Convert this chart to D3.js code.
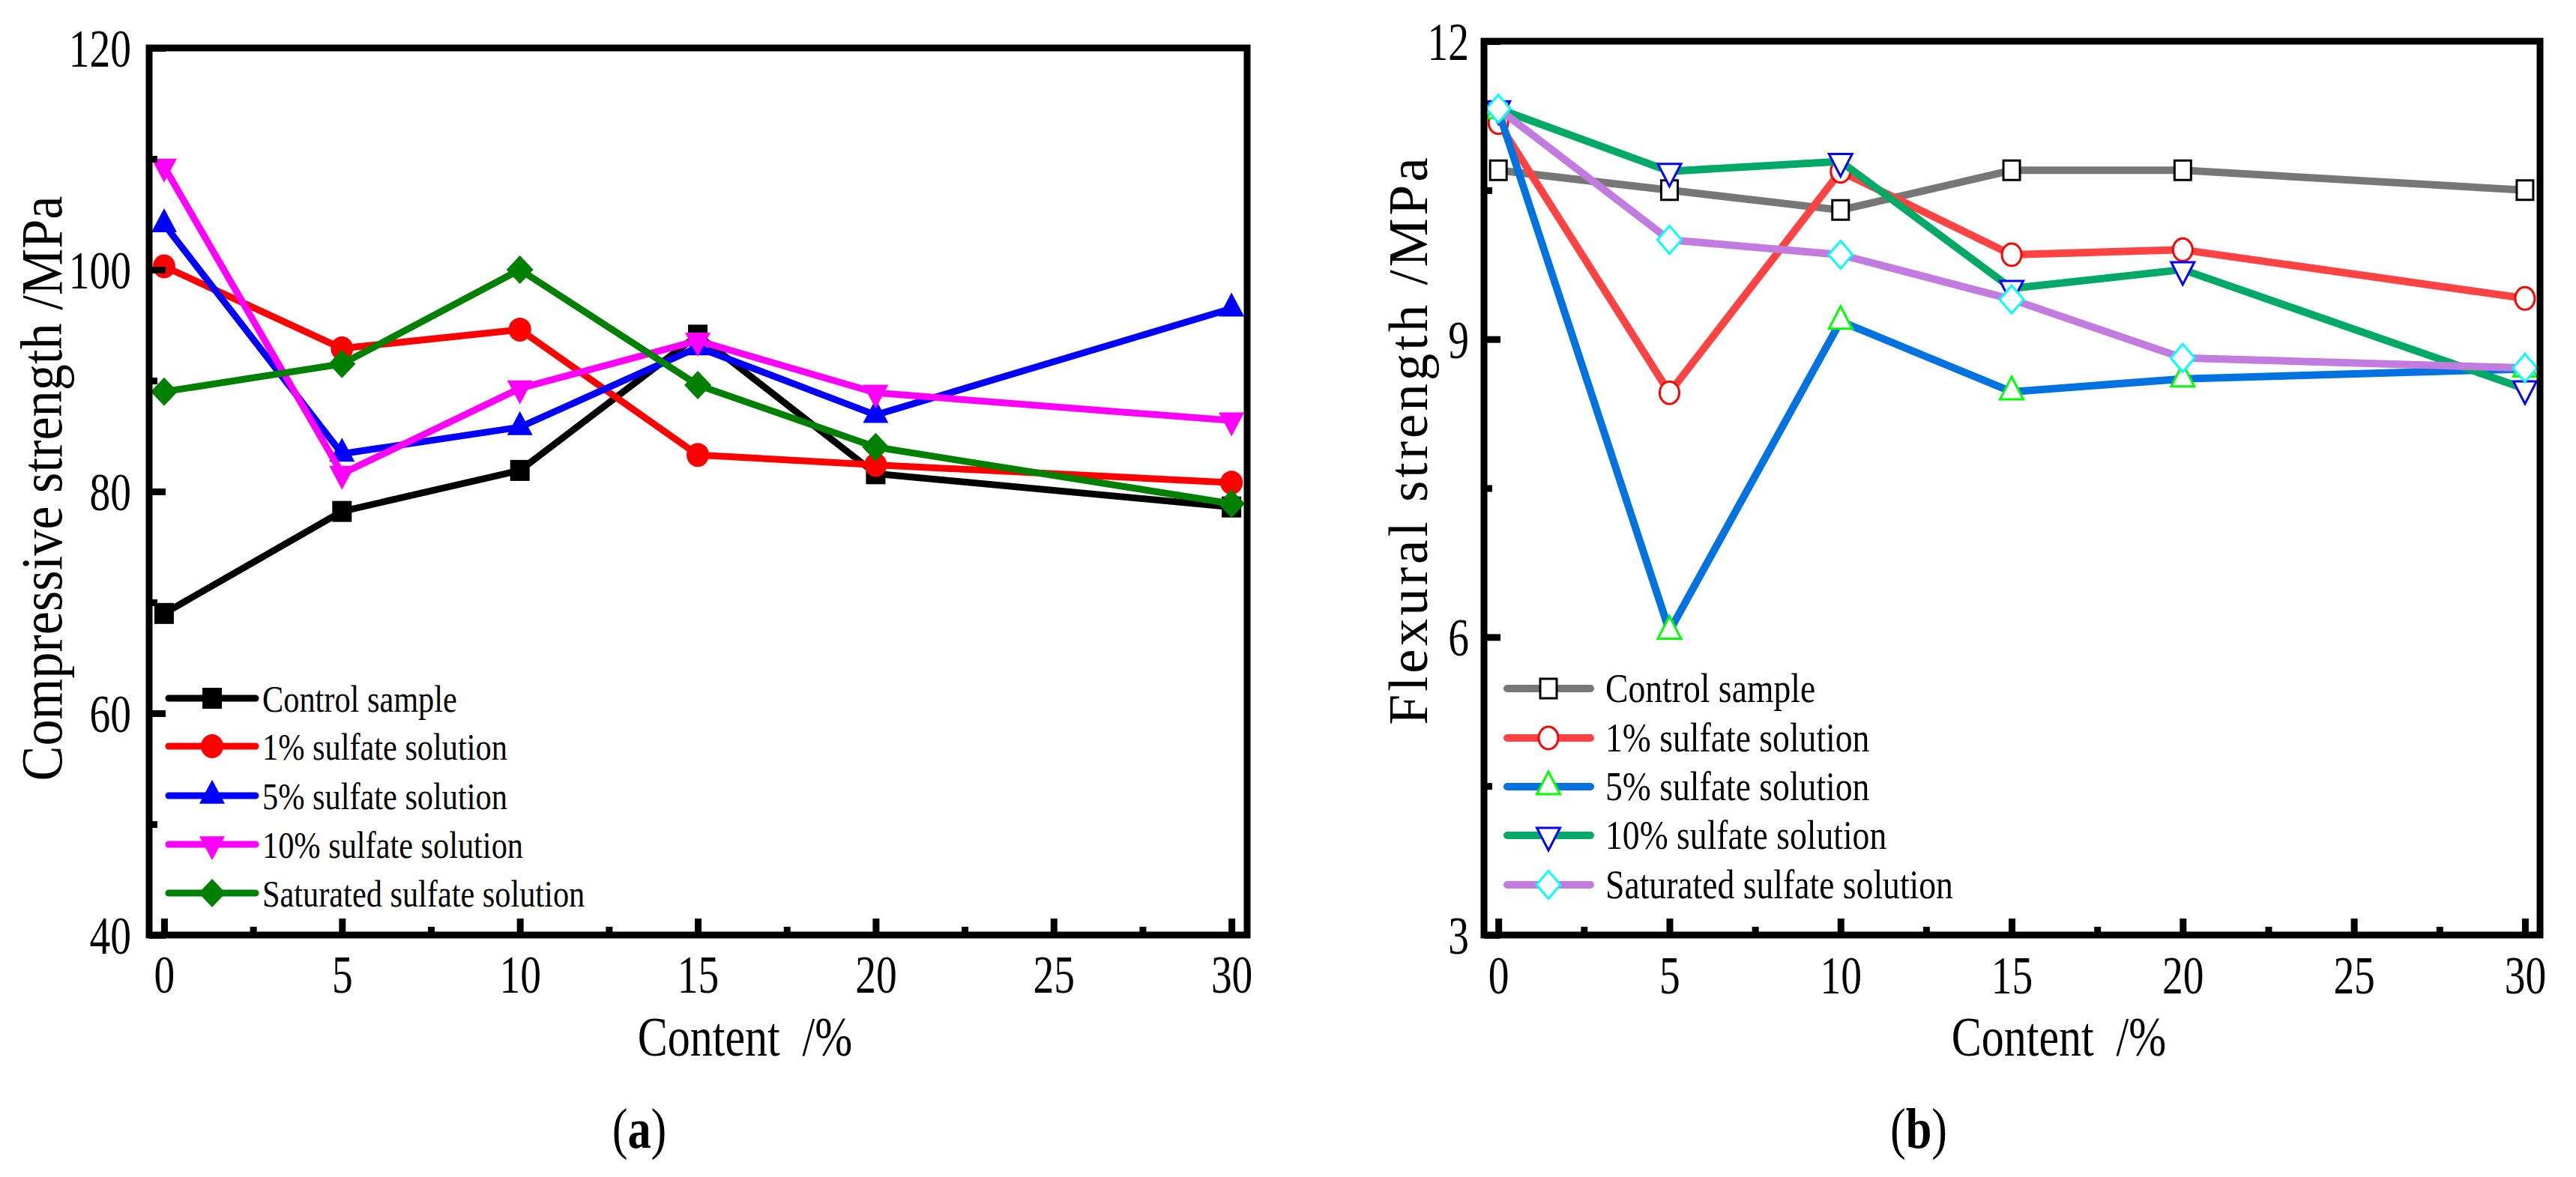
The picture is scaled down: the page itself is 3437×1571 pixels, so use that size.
<!DOCTYPE html>
<html>
<head>
<meta charset="utf-8">
<script src="https://cdn.jsdelivr.net/npm/d3@7"></script>
<style>
  body { margin: 0; background: #fff; }
  text { font-family: "Liberation Serif", "Times New Roman", serif; fill: #000; }
</style>
</head>
<body>
<svg id="chart"></svg>
<script>
'use strict';

// content levels (x values), shared by both panels
var contents = [0, 5, 10, 15, 20, 30];
var seriesNames = ['Control sample', '1% sulfate solution', '5% sulfate solution',
    '10% sulfate solution', 'Saturated sulfate solution'];

// (a) compressive strength /MPa
var compControl = [69.0, 78.2, 81.9, 94.1, 81.6, 78.6];
var comp1 = [100.3, 92.9, 94.6, 83.3, 82.4, 80.8];
var comp5 = [104.1, 83.4, 85.8, 93.0, 86.9, 96.5];
var comp10 = [109.3, 81.6, 89.3, 93.6, 88.9, 86.4];
var compSat = [89.0, 91.5, 100.0, 89.6, 84.0, 78.9];

// (b) flexural strength /MPa
var flexControl = [10.70, 10.50, 10.30, 10.70, 10.70, 10.50];
var flex1 = [11.18, 8.46, 10.69, 9.85, 9.90, 9.41];
var flex5 = [11.30, 6.06, 9.18, 8.47, 8.60, 8.70];
var flex10 = [11.32, 10.69, 10.79, 9.51, 9.70, 8.50];
var flexSat = [11.32, 10.00, 9.85, 9.40, 8.81, 8.71];

// tick values
var xTicks = [0, 5, 10, 15, 20, 25, 30];
var xMinor = [2.5, 7.5, 12.5, 17.5, 22.5, 27.5];
var compTicks = [40, 60, 80, 100, 120];
var compMinor = [50, 70, 90, 110];
var flexTicks = [3, 6, 9, 12];
var flexMinor = [4.5, 7.5, 10.5];

var shapes = ['square', 'circle', 'up', 'down', 'diamond'];

var svg = d3.select('#chart')
    .attr('width', 3437)
    .attr('height', 1571);

// marker outline centred on the data point
function symbolPath(shape, size) {
    var w = size[0], h = size[1];
    if (shape == 'square')
        return 'M' + (-w / 2) + ',' + (-h / 2) + 'h' + w + 'v' + h + 'h' + (-w) + 'Z';
    else if (shape == 'circle')
        return 'M' + (-w / 2) + ',0a' + (w / 2) + ',' + (h / 2) + ' 0 1,0 ' + w + ',0' +
            'a' + (w / 2) + ',' + (h / 2) + ' 0 1,0 ' + (-w) + ',0Z';
    else if (shape == 'up')
        return 'M0,' + (-2 * h / 3) + 'L' + (w / 2) + ',' + (h / 3) + 'L' + (-w / 2) + ',' + (h / 3) + 'Z';
    else if (shape == 'down')
        return 'M0,' + (2 * h / 3) + 'L' + (w / 2) + ',' + (-h / 3) + 'L' + (-w / 2) + ',' + (-h / 3) + 'Z';
    else
        return 'M0,' + (-h / 2) + 'L' + (w / 2) + ',0L0,' + (h / 2) + 'L' + (-w / 2) + ',0Z';
}

// Origin style text: a little condensed horizontally
function label(parent, str, x, y, size, sx, anchor, rot) {
    return parent.append('text')
        .attr('transform', 'translate(' + x + ',' + y + ')' + (rot ? ' rotate(' + rot + ')' : '') +
            ' scale(' + sx + ',1)')
        .attr('text-anchor', anchor)
        .style('font-size', size + 'px')
        .style('white-space', 'pre')
        .text(str);
}

function drawPanel(p) {
    var g = svg.append('g');
    var x = d3.scaleLinear().domain([-0.42, 30.44]).range([p.left, p.right]);
    var y = d3.scaleLinear().domain(p.yDomain).range([p.bottom, p.top]);
    var line = d3.line()
        .x(function (d) { return x(d.c); })
        .y(function (d) { return y(d.v); });

    p.series.forEach(function (s, i) {
        var pts = contents.map(function (c, j) {
            return {c: c, v: s.values[j]};
        });
        g.append('path')
            .datum(pts)
            .attr('d', line)
            .attr('fill', 'none')
            .attr('stroke', p.lineColors[i])
            .attr('stroke-width', p.lineWidth)
            .attr('stroke-linejoin', 'round');
        g.selectAll(null)
            .data(pts)
            .enter()
            .append('path')
            .attr('transform', function (d) {
                return 'translate(' + x(d.c) + ',' + y(d.v) + ')';
            })
            .attr('d', symbolPath(shapes[i], p.sizes[shapes[i]]))
            .attr('fill', p.filled ? p.markColors[i] : '#fff')
            .attr('stroke', p.markColors[i])
            .attr('stroke-width', p.filled ? 0 : 3);
    });

    // legend
    p.series.forEach(function (s, i) {
        var ry = p.legend.rows[i];
        g.append('line')
            .attr('x1', p.legend.x0).attr('x2', p.legend.x1)
            .attr('y1', ry).attr('y2', ry)
            .attr('stroke', p.lineColors[i])
            .attr('stroke-width', p.lineWidth)
            .attr('stroke-linecap', 'round');
        g.append('path')
            .attr('transform', 'translate(' + p.legend.mark + ',' + ry + ')')
            .attr('d', symbolPath(shapes[i], p.sizes[shapes[i]]))
            .attr('fill', p.filled ? p.markColors[i] : '#fff')
            .attr('stroke', p.markColors[i])
            .attr('stroke-width', p.filled ? 0 : 3);
        label(g, s.name, p.legend.text, ry + p.legend.base, p.legend.size, p.legend.sx, 'start');
    });

    // axes, ticks pointing inwards
    function styleAxis(a, isMajor, tx, ty) {
        a.attr('font-family', null).attr('font-size', null);
        a.select('.domain').remove();
        a.selectAll('line').attr('stroke', '#000').attr('stroke-width', 9);
        if (isMajor) {
            a.selectAll('text')
                .attr('x', null).attr('y', null)
                .attr('transform', 'translate(' + tx + ',' + ty + ') scale(' + p.tickSx + ',1)')
                .style('font-size', p.tickSize + 'px');
        }
    }
    var xAxis = d3.axisBottom(x).tickValues(xTicks).tickSize(-22).tickFormat(d3.format('d'));
    var xAxisMinor = d3.axisBottom(x).tickValues(xMinor).tickSize(-11).tickFormat('');
    var yAxis = d3.axisLeft(y).tickValues(p.yTicks).tickSize(-22).tickFormat(d3.format('d'));
    var yAxisMinor = d3.axisLeft(y).tickValues(p.yMinor).tickSize(-11).tickFormat('');

    g.append('g').attr('transform', 'translate(0,' + p.bottom + ')').call(xAxis)
        .call(function (a) {
            styleAxis(a, true, 0, p.xLabelY);
            a.selectAll('text').attr('dy', null);
        });
    g.append('g').attr('transform', 'translate(0,' + p.bottom + ')').call(xAxisMinor)
        .call(function (a) { styleAxis(a, false); });
    g.append('g').attr('transform', 'translate(' + p.left + ',0)').call(yAxis)
        .call(function (a) {
            styleAxis(a, true, -p.yLabelGap, 0);
            a.selectAll('text').attr('dy', '0.34em');
        });
    g.append('g').attr('transform', 'translate(' + p.left + ',0)').call(yAxisMinor)
        .call(function (a) { styleAxis(a, false); });

    // frame
    g.append('rect')
        .attr('x', p.left).attr('y', p.top)
        .attr('width', p.right - p.left).attr('height', p.bottom - p.top)
        .attr('fill', 'none')
        .attr('stroke', '#000')
        .attr('stroke-width', 9);

    // titles
    label(g, 'Content  /%', p.xTitleX, 1409, 74, 0.81, 'middle');
    var yt = label(g, p.yTitle, p.yTitleX, p.yTitleY, p.yTitleSize, p.yTitleSx, 'middle', -90);
    if (p.yTitleSpacing)
        yt.style('letter-spacing', p.yTitleSpacing + 'px');

    var cap = g.append('text')
        .attr('transform', 'translate(' + p.capX + ',1532) scale(0.82,1)')
        .attr('text-anchor', 'middle')
        .style('font-size', '76px');
    cap.append('tspan').text('(');
    cap.append('tspan').style('font-weight', 'bold').text(p.cap);
    cap.append('tspan').text(')');
}

drawPanel({
    left: 199, right: 1664, top: 64, bottom: 1248,
    yDomain: [40, 120], yTicks: compTicks, yMinor: compMinor,
    series: [compControl, comp1, comp5, comp10, compSat].map(function (v, i) {
        return {name: seriesNames[i], values: v};
    }),
    lineColors: ['#000000', '#ff0000', '#0000ff', '#ff00ff', '#008000'],
    markColors: ['#000000', '#ff0000', '#0000ff', '#ff00ff', '#008000'],
    filled: true,
    lineWidth: 9,
    sizes: {square: [26, 28], circle: [30, 32], up: [34, 32], down: [34, 32], diamond: [36, 38]},
    legend: {x0: 225, x1: 341, mark: 283, text: 350, rows: [932, 996, 1062, 1127, 1192],
        base: 18, size: 51, sx: 0.83},
    tickSize: 72, tickSx: 0.77, xLabelY: 77, yLabelGap: 24,
    xTitleX: 994,
    yTitle: 'Compressive strength /MPa', yTitleX: 82, yTitleY: 652, yTitleSize: 79, yTitleSx: 0.89,
    capX: 853, cap: 'a'
});

drawPanel({
    left: 1980, right: 3389, top: 55, bottom: 1248,
    yDomain: [3, 12], yTicks: flexTicks, yMinor: flexMinor,
    series: [flexControl, flex1, flex5, flex10, flexSat].map(function (v, i) {
        return {name: seriesNames[i], values: v};
    }),
    lineColors: ['#777777', '#ff4242', '#0073e0', '#00aa66', '#c27ce0'],
    markColors: ['#000000', '#ff0000', '#00ff00', '#0000ff', '#00ffff'],
    filled: false,
    lineWidth: 10,
    sizes: {square: [22, 26], circle: [26, 30], up: [31, 30], down: [31, 30], diamond: [32, 37]},
    legend: {x0: 2011, x1: 2122, mark: 2066, text: 2142, rows: [919, 985, 1050, 1115, 1181],
        base: 18, size: 55, sx: 0.83},
    tickSize: 72, tickSx: 0.77, xLabelY: 78, yLabelGap: 20,
    xTitleX: 2747,
    yTitle: 'Flexural strength /MPa', yTitleX: 1904, yTitleY: 587, yTitleSize: 73, yTitleSx: 1,
    yTitleSpacing: 4,
    capX: 2560, cap: 'b'
});
</script>
</body>
</html>
